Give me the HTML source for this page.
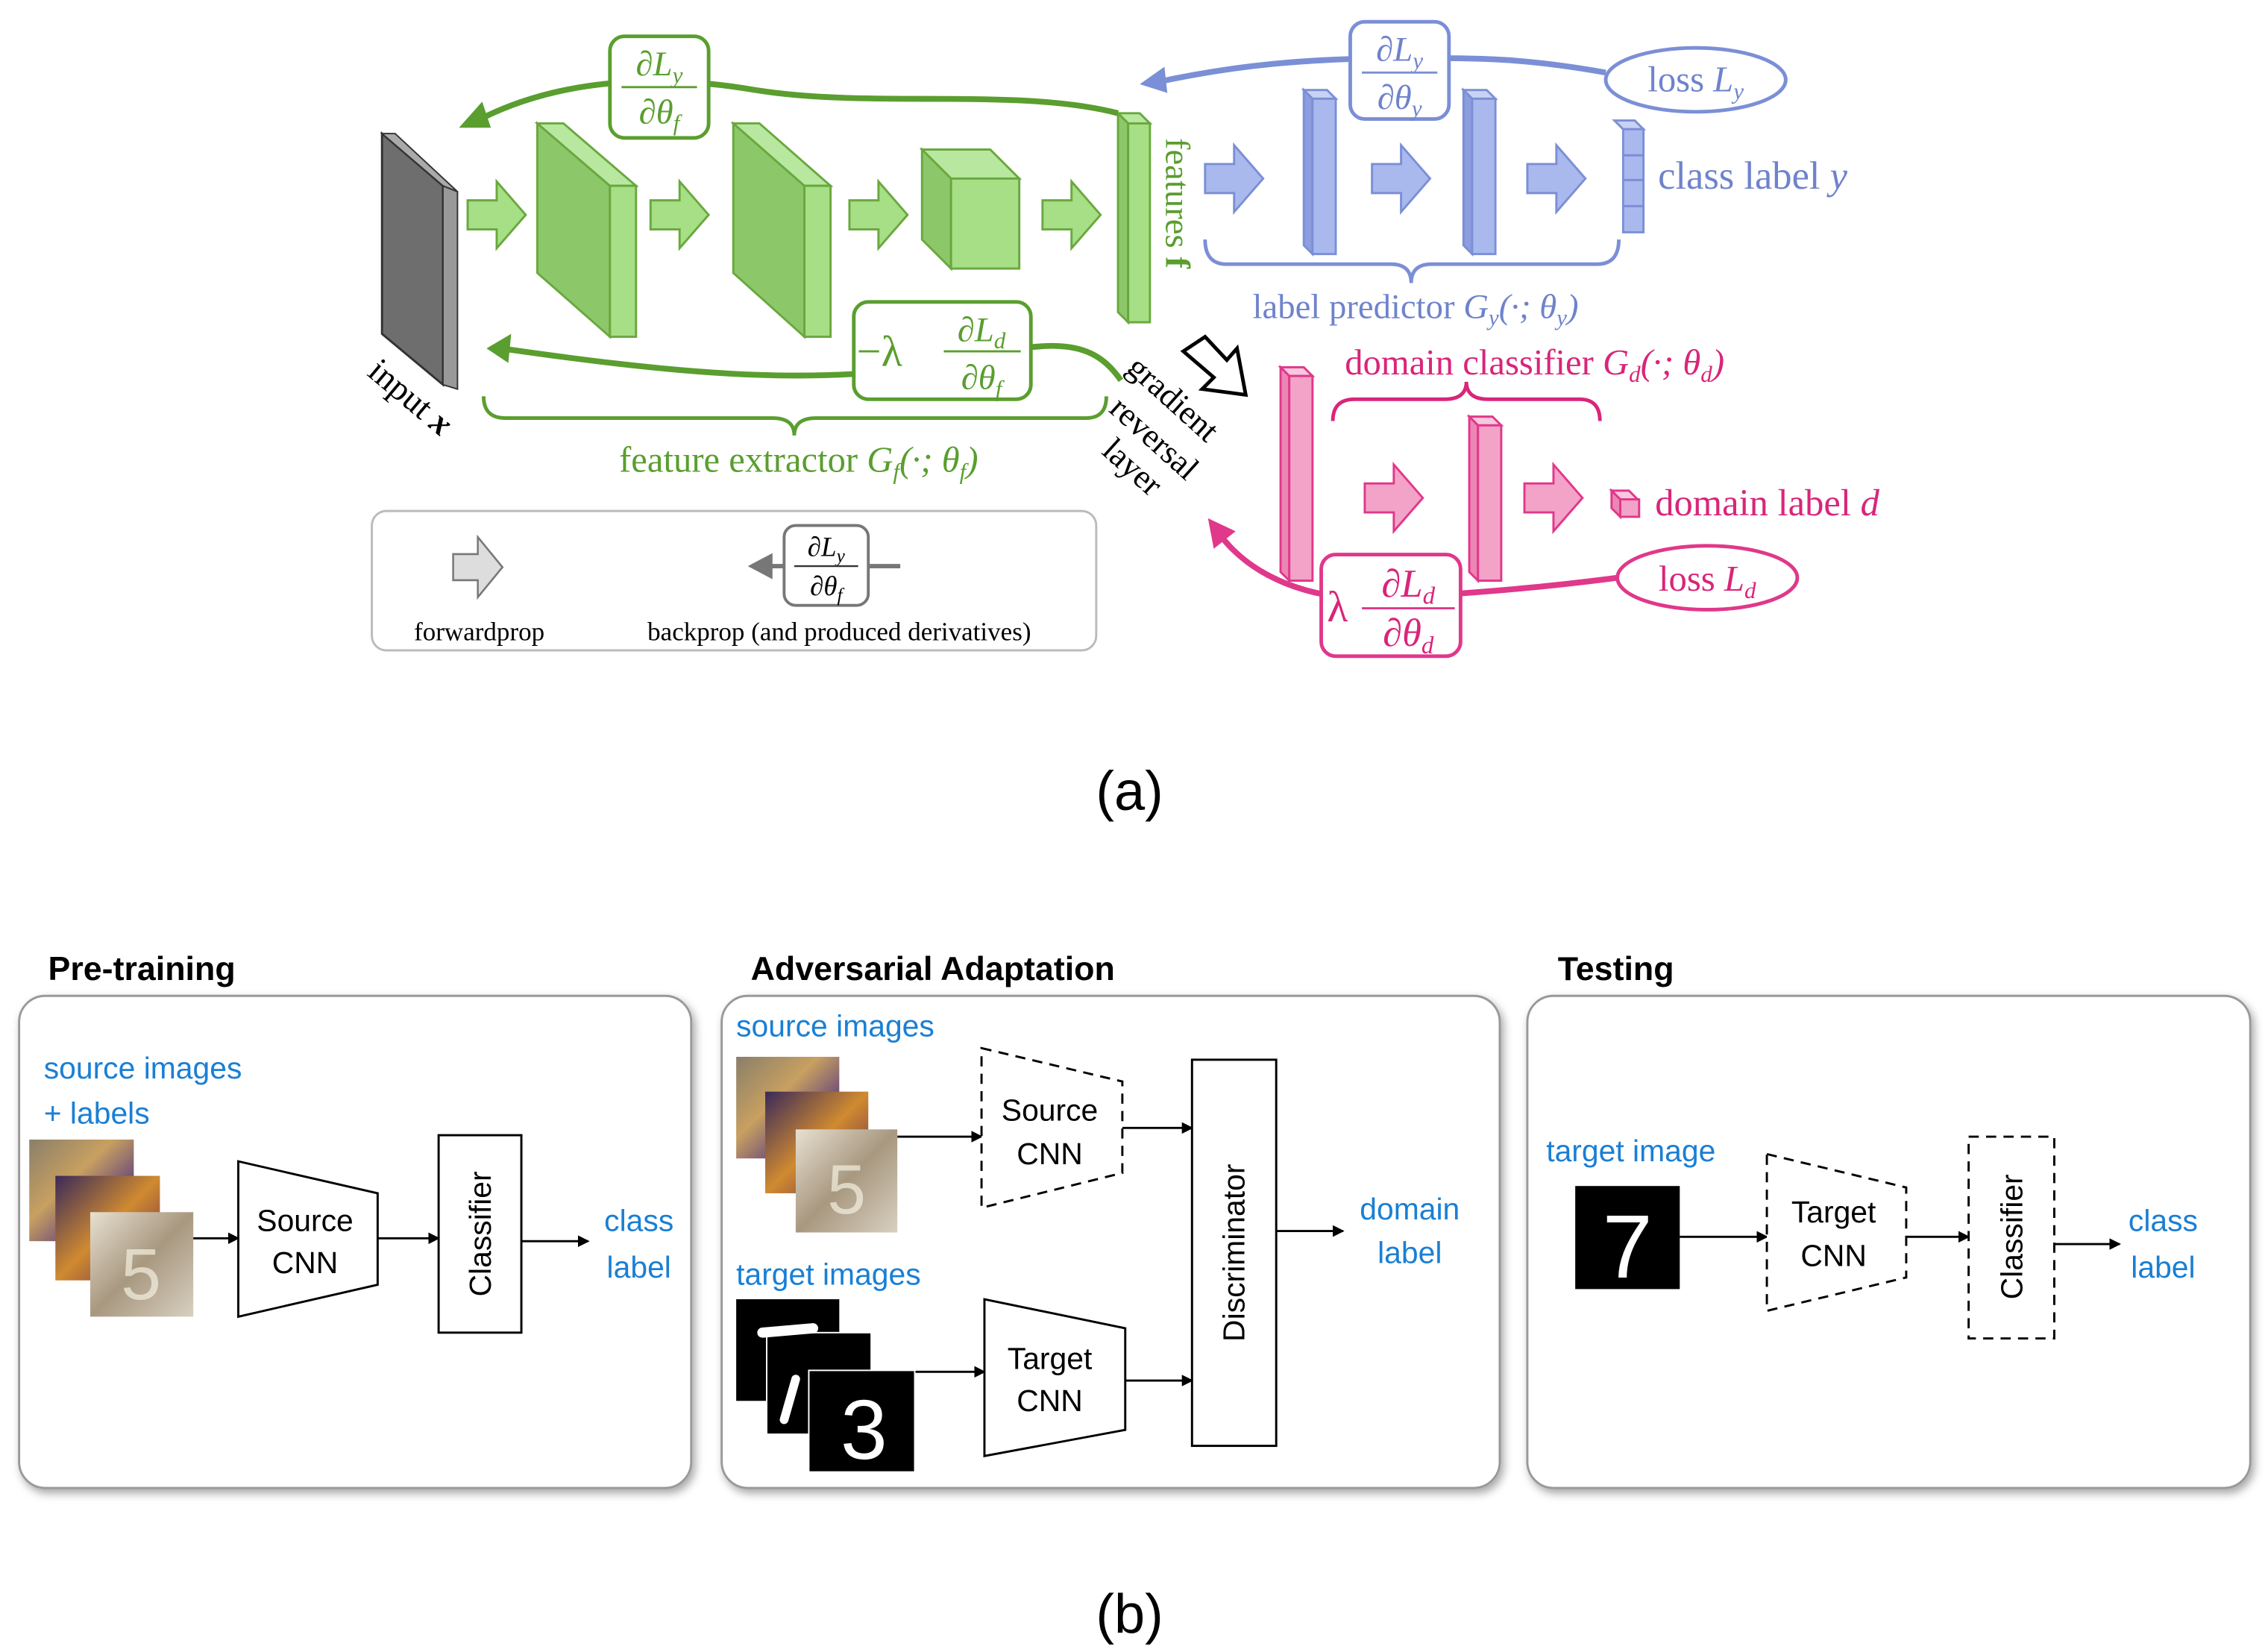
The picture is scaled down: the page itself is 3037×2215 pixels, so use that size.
<!DOCTYPE html>
<html><head><meta charset="utf-8">
<style>
html,body{margin:0;padding:0;background:#fff;}
svg{display:block;}
.m{font-family:"Liberation Serif",serif;}
.s{font-family:"Liberation Sans","DejaVu Sans",sans-serif;}
</style></head><body>
<svg width="3037" height="2215" viewBox="0 0 1560 1138" xmlns="http://www.w3.org/2000/svg">
<defs>
<path id="ar" d="M0,13 H20 V0 L40,23 L20,46 V33 H0 Z"/>
<marker id="mk" markerWidth="8" markerHeight="8" refX="7" refY="4" orient="auto" markerUnits="userSpaceOnUse"><path d="M0,0 L8,4 L0,8 Z" fill="#000"/></marker>
<filter id="sh" x="-5%" y="-5%" width="110%" height="115%"><feDropShadow dx="2" dy="3" stdDeviation="3" flood-color="#000" flood-opacity="0.35"/></filter>
<linearGradient id="g1" x1="0" y1="0" x2="1" y2="1"><stop offset="0" stop-color="#8a7f6a"/><stop offset="0.4" stop-color="#c8a060"/><stop offset="0.7" stop-color="#6a4a7a"/><stop offset="1" stop-color="#b0a890"/></linearGradient>
<linearGradient id="g2" x1="0" y1="0" x2="1" y2="1"><stop offset="0" stop-color="#3a2a5a"/><stop offset="0.5" stop-color="#d08a30"/><stop offset="1" stop-color="#5a2050"/></linearGradient>
<linearGradient id="g3" x1="0" y1="0" x2="1" y2="1"><stop offset="0" stop-color="#e8e0d0"/><stop offset="0.5" stop-color="#a89880"/><stop offset="1" stop-color="#d8d0c0"/></linearGradient>
</defs>

<!-- ===== (a) ===== -->
<!-- input -->
<polygon points="263,92 305,128 305,265 263,230" fill="#6e6e6e" stroke="#333" stroke-width="1.5"/>
<polygon points="305,128 315,132 315,268 305,265" fill="#999" stroke="#333" stroke-width="1"/>
<polygon points="263,92 272,92 315,132 305,128" fill="#aaa" stroke="#333" stroke-width="1"/>
<text class="m" x="252" y="258" font-size="24" transform="rotate(40 252 258)">input <tspan font-style="italic" font-weight="bold">x</tspan></text>

<!-- green arrows -->
<g fill="#a6df86" stroke="#6aa83e" stroke-width="1.5">
<use href="#ar" transform="translate(322,125)"/>
<use href="#ar" transform="translate(448,125)"/>
<use href="#ar" transform="translate(585,125)"/>
<use href="#ar" transform="translate(718,125)"/>
</g>
<!-- green slabs -->
<g stroke="#6aa83e" stroke-width="1.5">
<polygon points="370,85 420,128 420,232 370,188" fill="#8cc86a"/>
<polygon points="370,85 388,85 438,128 420,128" fill="#b8e8a0"/>
<rect x="420" y="128" width="18" height="104" fill="#a6df86"/>
<polygon points="505,85 554,128 554,232 505,188" fill="#8cc86a"/>
<polygon points="505,85 523,85 572,128 554,128" fill="#b8e8a0"/>
<rect x="554" y="128" width="18" height="104" fill="#a6df86"/>
<polygon points="635,103 682,103 702,123 655,123" fill="#b8e8a0"/>
<polygon points="635,103 655,123 655,185 635,165" fill="#8cc86a"/>
<rect x="655" y="123" width="47" height="62" fill="#a6df86"/>
<polygon points="770,78 785,78 792,85 777,85" fill="#b8e8a0"/>
<polygon points="770,78 777,85 777,222 770,215" fill="#8cc86a"/>
<rect x="777" y="85" width="15" height="137" fill="#a6df86"/>
</g>
<text class="m" x="803" y="95" font-size="24" fill="#5a9e2f" transform="rotate(90 803 95)">features <tspan font-weight="bold">f</tspan></text>

<!-- green top curve -->
<path d="M770,78 C700,60 600,75 520,62 C450,50 380,55 325,85" fill="none" stroke="#5a9e2f" stroke-width="4"/>
<polygon points="316,88 332,70 338,88" fill="#5a9e2f"/>
<rect x="420" y="25" width="68" height="70" rx="10" fill="#fff" stroke="#5a9e2f" stroke-width="2.5"/>
<text class="m" x="454" y="52" font-size="24" font-style="italic" fill="#5a9e2f" text-anchor="middle">∂L<tspan font-size="16" dy="5">y</tspan></text>
<line x1="428" y1="60" x2="480" y2="60" stroke="#5a9e2f" stroke-width="1.5"/>
<text class="m" x="454" y="85" font-size="24" font-style="italic" fill="#5a9e2f" text-anchor="middle">∂θ<tspan font-size="16" dy="5">f</tspan></text>

<!-- green lower curve -->
<path d="M772,262 C750,230 720,235 650,250 C560,268 450,255 345,240" fill="none" stroke="#5a9e2f" stroke-width="4"/>
<polygon points="335,240 352,230 350,250" fill="#5a9e2f"/>
<rect x="588" y="208" width="122" height="67" rx="10" fill="#fff" stroke="#5a9e2f" stroke-width="2.5"/>
<text class="m" x="590" y="252" font-size="30" fill="#5a9e2f">−λ</text>
<text class="m" x="676" y="235" font-size="24" font-style="italic" fill="#5a9e2f" text-anchor="middle">∂L<tspan font-size="16" dy="5">d</tspan></text>
<line x1="650" y1="242" x2="703" y2="242" stroke="#5a9e2f" stroke-width="1.5"/>
<text class="m" x="676" y="268" font-size="24" font-style="italic" fill="#5a9e2f" text-anchor="middle">∂θ<tspan font-size="16" dy="5">f</tspan></text>
<!-- green brace -->
<path d="M333,273 Q333,288 348,288 L532,288 Q547,288 547,300 Q547,288 562,288 L748,288 Q762,288 762,273" fill="none" stroke="#5a9e2f" stroke-width="2.5"/>
<text class="m" x="550" y="325" font-size="25" fill="#5a9e2f" text-anchor="middle">feature extractor <tspan font-style="italic">G<tspan font-size="16" dy="5">f</tspan><tspan dy="-5">(·; θ</tspan><tspan font-size="16" dy="5">f</tspan><tspan dy="-5">)</tspan></tspan></text>

<!-- gradient reversal -->
<polygon points="815,242 830,232 845,248 852,240 858,272 828,268 836,260" fill="#fff" stroke="#000" stroke-width="2.5"/>
<text class="m" x="775" y="255" font-size="23" transform="rotate(42 775 255)">gradient</text>
<text class="m" x="763" y="283" font-size="23" transform="rotate(42 763 283)">reversal</text>
<text class="m" x="758" y="312" font-size="23" transform="rotate(42 758 312)">layer</text>

<!-- blue -->
<g fill="#a9b9ee" stroke="#7b8fd6" stroke-width="1.5">
<use href="#ar" transform="translate(830,100)"/>
<use href="#ar" transform="translate(945,100)"/>
<use href="#ar" transform="translate(1052,100)"/>
<polygon points="898,62 914,62 920,68 904,68" fill="#c8d2f4"/>
<polygon points="898,62 904,68 904,175 898,169" fill="#8c9ee0"/>
<rect x="904" y="68" width="16" height="107"/>
<polygon points="1008,62 1024,62 1030,68 1014,68" fill="#c8d2f4"/>
<polygon points="1008,62 1014,68 1014,175 1008,169" fill="#8c9ee0"/>
<rect x="1014" y="68" width="16" height="107"/>
<polygon points="1112,83 1126,83 1132,89 1118,89" fill="#c8d2f4"/>
<rect x="1118" y="89" width="14" height="71"/>
<line x1="1118" y1="107" x2="1132" y2="107"/><line x1="1118" y1="124" x2="1132" y2="124"/><line x1="1118" y1="142" x2="1132" y2="142"/>
</g>
<text class="m" x="1142" y="130" font-size="27" fill="#6f83cc">class label <tspan font-style="italic">y</tspan></text>
<ellipse cx="1168" cy="55" rx="62" ry="22" fill="#fff" stroke="#7b8fd6" stroke-width="2.5"/>
<text class="m" x="1168" y="63" font-size="25" fill="#6f83cc" text-anchor="middle">loss <tspan font-style="italic">L<tspan font-size="16" dy="5">y</tspan></tspan></text>
<path d="M1106,50 C1050,40 1020,40 970,40 C900,40 850,45 795,57" fill="none" stroke="#7b8fd6" stroke-width="4"/>
<polygon points="785,58 802,46 804,64" fill="#7b8fd6"/>
<rect x="930" y="15" width="68" height="67" rx="10" fill="#fff" stroke="#7b8fd6" stroke-width="2.5"/>
<text class="m" x="964" y="42" font-size="24" font-style="italic" fill="#6f83cc" text-anchor="middle">∂L<tspan font-size="16" dy="5">y</tspan></text>
<line x1="938" y1="50" x2="990" y2="50" stroke="#7b8fd6" stroke-width="1.5"/>
<text class="m" x="964" y="75" font-size="24" font-style="italic" fill="#6f83cc" text-anchor="middle">∂θ<tspan font-size="16" dy="5">y</tspan></text>
<path d="M830,165 Q830,182 845,182 L958,182 Q972,182 972,195 Q972,182 986,182 L1100,182 Q1115,182 1115,165" fill="none" stroke="#7b8fd6" stroke-width="2.5"/>
<text class="m" x="975" y="219" font-size="24" fill="#6f83cc" text-anchor="middle">label predictor <tspan font-style="italic">G<tspan font-size="16" dy="5">y</tspan><tspan dy="-5">(·; θ</tspan><tspan font-size="16" dy="5">y</tspan><tspan dy="-5">)</tspan></tspan></text>

<!-- pink -->
<text class="m" x="1057" y="258" font-size="25" fill="#d9257a" text-anchor="middle">domain classifier <tspan font-style="italic">G<tspan font-size="16" dy="5">d</tspan><tspan dy="-5">(·; θ</tspan><tspan font-size="16" dy="5">d</tspan><tspan dy="-5">)</tspan></tspan></text>
<path d="M918,290 Q918,275 933,275 L995,275 Q1010,275 1010,263 Q1010,275 1025,275 L1088,275 Q1102,275 1102,290" fill="none" stroke="#d9257a" stroke-width="2.5"/>
<g fill="#f4a3c8" stroke="#e0388a" stroke-width="1.5">
<use href="#ar" transform="translate(940,320)"/>
<use href="#ar" transform="translate(1050,320)"/>
<polygon points="882,253 898,253 904,259 888,259" fill="#f9c8de"/>
<polygon points="882,253 888,259 888,400 882,394" fill="#ec86b4"/>
<rect x="888" y="259" width="16" height="141"/>
<polygon points="1012,287 1028,287 1034,293 1018,293" fill="#f9c8de"/>
<polygon points="1012,287 1018,293 1018,400 1012,394" fill="#ec86b4"/>
<rect x="1018" y="293" width="16" height="107"/>
<polygon points="1110,338 1122,338 1128,344 1116,344" fill="#f9c8de"/>
<rect x="1116" y="344" width="13" height="12"/>
<polygon points="1110,338 1116,344 1116,356 1110,350" fill="#ec86b4"/>
</g>
<text class="m" x="1140" y="355" font-size="26" fill="#d9257a">domain label <tspan font-style="italic">d</tspan></text>
<ellipse cx="1176" cy="398" rx="62" ry="22" fill="#fff" stroke="#e0388a" stroke-width="2.5"/>
<text class="m" x="1176" y="407" font-size="25" fill="#d9257a" text-anchor="middle">loss <tspan font-style="italic">L<tspan font-size="16" dy="5">d</tspan></tspan></text>
<path d="M1114,398 C1060,405 1020,408 960,412 C900,416 860,395 840,368" fill="none" stroke="#e0388a" stroke-width="4"/>
<polygon points="832,357 851,366 836,378" fill="#e0388a"/>
<rect x="910" y="382" width="96" height="70" rx="10" fill="#fff" stroke="#e0388a" stroke-width="2.5"/>
<text class="m" x="914" y="428" font-size="30" fill="#d9257a">λ</text>
<text class="m" x="970" y="411" font-size="27" font-style="italic" fill="#d9257a" text-anchor="middle">∂L<tspan font-size="17" dy="5">d</tspan></text>
<line x1="938" y1="419" x2="1002" y2="419" stroke="#e0388a" stroke-width="1.5"/>
<text class="m" x="970" y="445" font-size="27" font-style="italic" fill="#d9257a" text-anchor="middle">∂θ<tspan font-size="17" dy="5">d</tspan></text>

<!-- legend -->
<rect x="256" y="352" width="499" height="96" rx="10" fill="#fff" stroke="#bbb" stroke-width="1.5"/>
<use href="#ar" transform="translate(312,370) scale(0.85,0.9)" fill="#ddd" stroke="#777" stroke-width="1.5"/>
<text class="m" x="330" y="441" font-size="18" text-anchor="middle">forwardprop</text>
<line x1="528" y1="390" x2="620" y2="390" stroke="#777" stroke-width="3"/>
<polygon points="515,390 532,381 532,399" fill="#777"/>
<rect x="540" y="362" width="58" height="55" rx="8" fill="#fff" stroke="#777" stroke-width="2"/>
<text class="m" x="569" y="383" font-size="19" font-style="italic" text-anchor="middle">∂L<tspan font-size="13" dy="4">y</tspan></text>
<line x1="547" y1="390" x2="591" y2="390" stroke="#333" stroke-width="1.2"/>
<text class="m" x="569" y="410" font-size="19" font-style="italic" text-anchor="middle">∂θ<tspan font-size="13" dy="4">f</tspan></text>
<text class="m" x="578" y="441" font-size="18" text-anchor="middle">backprop (and produced derivatives)</text>

<text class="s" x="778" y="558" font-size="38" text-anchor="middle">(a)</text>

<!-- ===== (b) ===== -->
<g class="s" font-size="23" font-weight="bold">
<text x="33" y="675">Pre-training</text>
<text x="517" y="675">Adversarial Adaptation</text>
<text x="1073" y="675">Testing</text>
</g>
<rect x="13" y="686" width="463" height="339" rx="18" fill="#fff" stroke="#999" stroke-width="1.5" filter="url(#sh)"/>
<rect x="497" y="686" width="536" height="339" rx="18" fill="#fff" stroke="#999" stroke-width="1.5" filter="url(#sh)"/>
<rect x="1052" y="686" width="498" height="339" rx="18" fill="#fff" stroke="#999" stroke-width="1.5" filter="url(#sh)"/>

<g class="s" font-size="21" fill="#1a7fd4">
<text x="30" y="743">source images</text>
<text x="30" y="774">+ labels</text>
<text x="440" y="848" text-anchor="middle">class</text>
<text x="440" y="880" text-anchor="middle">label</text>
<text x="507" y="714">source images</text>
<text x="507" y="885">target images</text>
<text x="971" y="840" text-anchor="middle">domain</text>
<text x="971" y="870" text-anchor="middle">label</text>
<text x="1065" y="800">target image</text>
<text x="1490" y="848" text-anchor="middle">class</text>
<text x="1490" y="880" text-anchor="middle">label</text>
</g>

<!-- panel1 -->
<rect x="20" y="785" width="72" height="70" fill="url(#g1)"/>
<rect x="38" y="810" width="72" height="72" fill="url(#g2)"/>
<rect x="62" y="835" width="71" height="72" fill="url(#g3)"/>
<text class="s" x="97" y="895" font-size="50" fill="#f4f0e0" text-anchor="middle" opacity="0.7">5</text>
<polygon points="164,800 260,822 260,885 164,907" fill="#fff" stroke="#000" stroke-width="1.5"/>
<text class="s" x="210" y="848" font-size="21" text-anchor="middle">Source</text>
<text class="s" x="210" y="877" font-size="21" text-anchor="middle">CNN</text>
<rect x="302" y="782" width="57" height="136" fill="#fff" stroke="#000" stroke-width="1.5"/>
<text class="s" x="338" y="850" font-size="21" text-anchor="middle" transform="rotate(-90 338 850)">Classifier</text>
<g stroke="#000" stroke-width="1.5" marker-end="url(#mk)">
<line x1="133" y1="853" x2="164" y2="853"/>
<line x1="260" y1="853" x2="302" y2="853"/>
<line x1="359" y1="855" x2="405" y2="855"/>
<line x1="618" y1="783" x2="676" y2="783"/>
<line x1="630" y1="945" x2="678" y2="945"/>
<line x1="773" y1="777" x2="821" y2="777"/>
<line x1="775" y1="951" x2="821" y2="951"/>
<line x1="879" y1="848" x2="925" y2="848"/>
<line x1="1157" y1="852" x2="1217" y2="852"/>
<line x1="1313" y1="852" x2="1356" y2="852"/>
<line x1="1415" y1="857" x2="1460" y2="857"/>
</g>

<!-- panel2 -->
<rect x="507" y="728" width="71" height="70" fill="url(#g1)"/>
<rect x="527" y="752" width="71" height="70" fill="url(#g2)"/>
<rect x="548" y="778" width="70" height="71" fill="url(#g3)"/>
<text class="s" x="583" y="836" font-size="48" fill="#f4f0e0" text-anchor="middle" opacity="0.7">5</text>
<polygon points="676,722 773,745 773,808 676,832" fill="#fff" stroke="#000" stroke-width="1.5" stroke-dasharray="7,5"/>
<text class="s" x="723" y="772" font-size="21" text-anchor="middle">Source</text>
<text class="s" x="723" y="802" font-size="21" text-anchor="middle">CNN</text>
<rect x="507" y="895" width="71" height="70" fill="#000"/>
<rect x="528" y="918" width="72" height="70" fill="#000" stroke="#fff" stroke-width="1"/>
<rect x="557" y="944" width="73" height="70" fill="#000" stroke="#fff" stroke-width="1"/>
<path d="M525,918 L560,915" stroke="#fff" stroke-width="7" stroke-linecap="round"/>
<path d="M548,950 L540,978" stroke="#fff" stroke-width="6" stroke-linecap="round"/>
<text class="s" x="595" y="1005" font-size="58" fill="#fff" text-anchor="middle">3</text>
<polygon points="678,895 775,915 775,985 678,1003" fill="#fff" stroke="#000" stroke-width="1.5"/>
<text class="s" x="723" y="943" font-size="21" text-anchor="middle">Target</text>
<text class="s" x="723" y="972" font-size="21" text-anchor="middle">CNN</text>
<rect x="821" y="730" width="58" height="266" fill="#fff" stroke="#000" stroke-width="1.5"/>
<text class="s" x="857" y="863" font-size="21" text-anchor="middle" transform="rotate(-90 857 863)">Discriminator</text>

<!-- panel3 -->
<rect x="1085" y="817" width="72" height="71" fill="#000"/>
<text class="s" x="1121" y="880" font-size="62" fill="#fff" text-anchor="middle">7</text>
<polygon points="1217,795 1313,818 1313,880 1217,903" fill="#fff" stroke="#000" stroke-width="1.5" stroke-dasharray="7,5"/>
<text class="s" x="1263" y="842" font-size="21" text-anchor="middle">Target</text>
<text class="s" x="1263" y="872" font-size="21" text-anchor="middle">CNN</text>
<rect x="1356" y="783" width="59" height="139" fill="#fff" stroke="#000" stroke-width="1.5" stroke-dasharray="7,5"/>
<text class="s" x="1393" y="852" font-size="21" text-anchor="middle" transform="rotate(-90 1393 852)">Classifier</text>

<text class="s" x="778" y="1125" font-size="38" text-anchor="middle">(b)</text>
</svg>
</body></html>
